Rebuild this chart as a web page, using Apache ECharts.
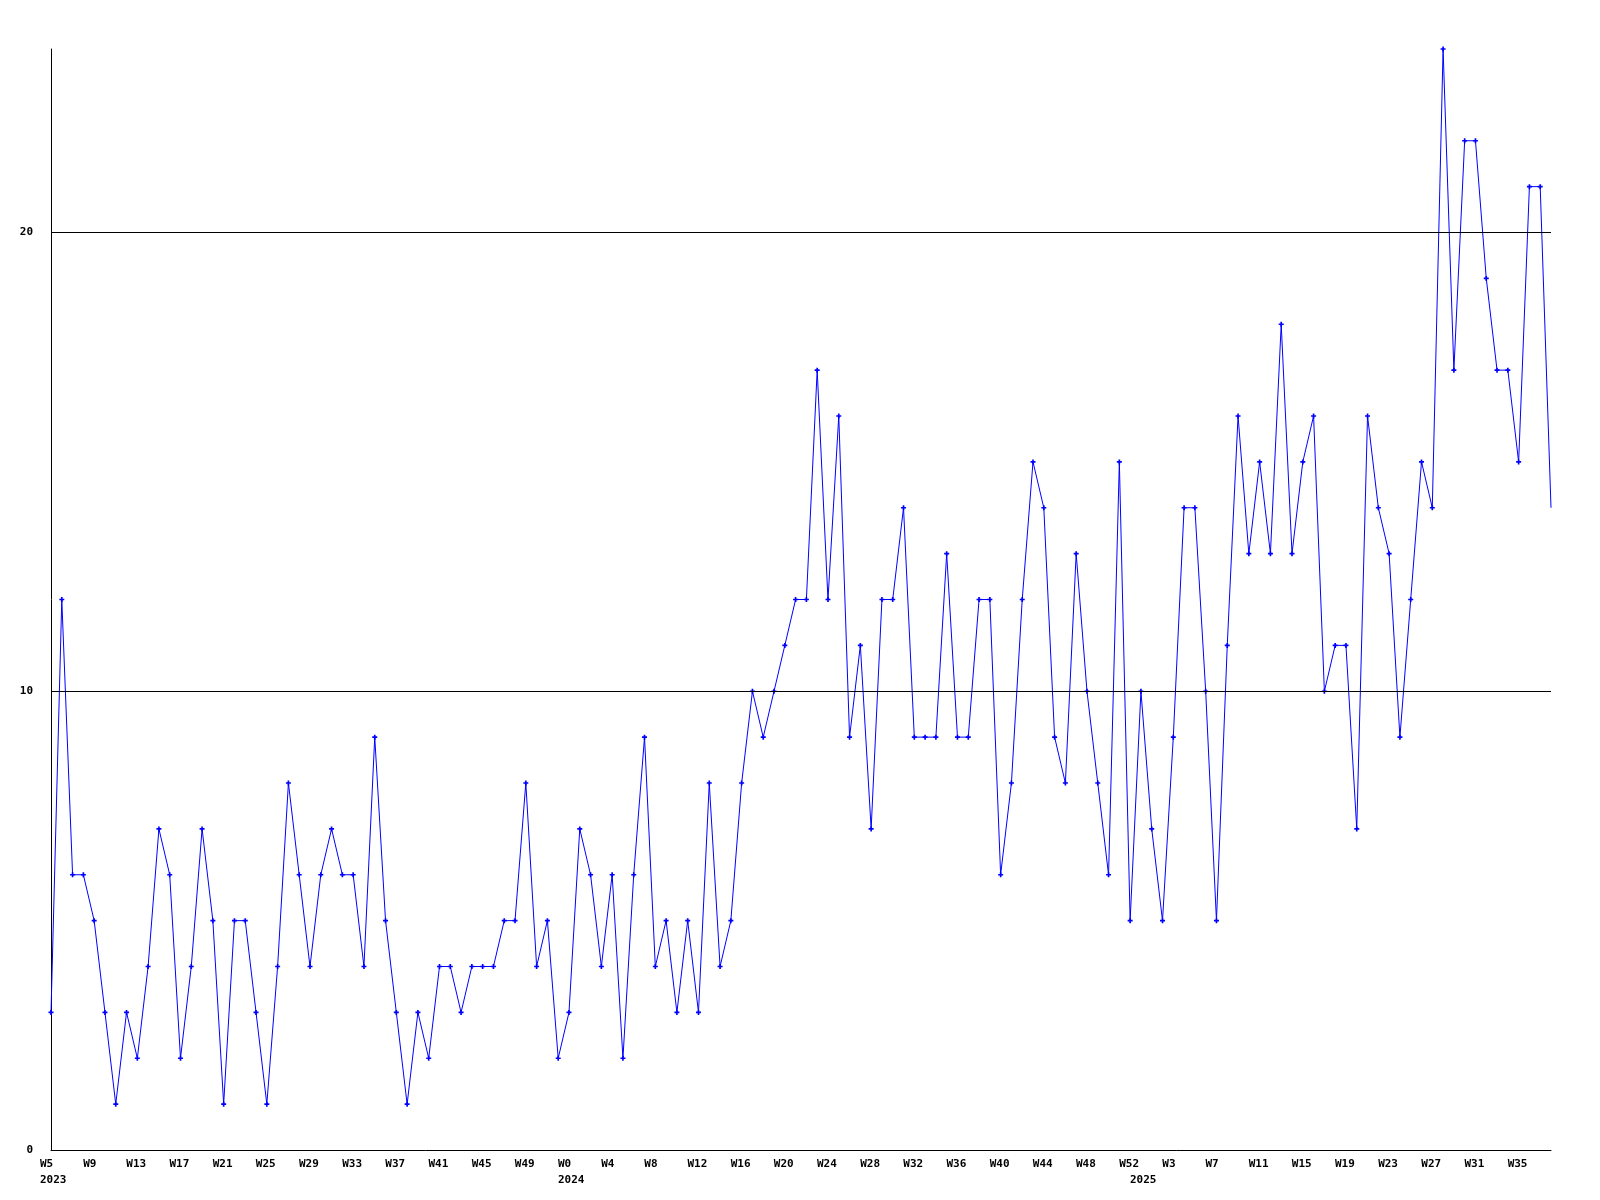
<!DOCTYPE html>
<html><head><meta charset="utf-8">
<script src="https://cdn.jsdelivr.net/npm/echarts@6/dist/echarts.min.js"></script>
<style>html,body{margin:0;padding:0;background:#fff}#c{width:1600px;height:1200px}</style>
</head><body><div id="c"></div>
<script>
// week numbers per year
const weeks2023 = [5,6,7,8,9,10,11,12,13,14,15,16,17,18,19,20,21,22,23,24,25,26,27,28,29,30,31,32,33,34,35,36,37,38,39,40,41,42,43,44,45,46,47,48,49,50,51,52];
const weeks2024 = [0,1,2,3,4,5,6,7,8,9,10,11,12,13,14,15,16,17,18,19,20,21,22,23,24,25,26,27,28,29,30,31,32,33,34,35,36,37,38,39,40,41,42,43,44,45,46,47,48,49,50,51,52];
const weeks2025 = [0,1,2,3,4,5,6,7,8,9,10,11,12,13,14,15,16,17,18,19,20,21,22,23,24,25,26,27,28,29,30,31,32,33,34,35,36,37,38];
// weekly values
const values2023 = [3,12,6,6,5,3,1,3,2,4,7,6,2,4,7,5,1,5,5,3,1,4,8,6,4,6,7,6,6,4,9,5,3,1,3,2,4,4,3,4,4,4,5,5,8,4,5,2];
const values2024 = [3,7,6,4,6,2,6,9,4,5,3,5,3,8,4,5,8,10,9,10,11,12,12,17,12,16,9,11,7,12,12,14,9,9,9,13,9,9,12,12,6,8,12,15,14,9,8,13,10,8,6,15,5];
const values2025 = [10,7,5,9,14,14,10,5,11,16,13,15,13,18,13,15,16,10,11,11,7,16,14,13,9,12,15,14,24,17,22,22,19,17,17,15,21,21,14];
const gridValues = [10, 20];
const yMax = 24;

const categories = [];
const yearOf = [];
[[2023, weeks2023], [2024, weeks2024], [2025, weeks2025]].forEach(([y, ws]) => {
  ws.forEach(w => { categories.push('W' + w); yearOf.push(y); });
});
const values = values2023.concat(values2024, values2025);
const isYearStart = i => i === 0 || yearOf[i] !== yearOf[i - 1];

const seriesData = values.map((v, i) => i === values.length - 1 ? {value: v, symbol: 'none'} : v);

const font = {fontFamily: 'DejaVu Sans Mono', fontWeight: 'bold', fontSize: 11, color: '#000'};

const chart = echarts.init(document.getElementById('c'), null, {renderer: 'canvas'});
chart.setOption({
  animation: false,
  backgroundColor: '#fff',
  grid: {left: 51, right: 49, top: 49, bottom: 50, containLabel: false},
  xAxis: {
    type: 'category',
    data: categories,
    boundaryGap: false,
    axisLine: {show: true, lineStyle: {color: '#000', width: 1}},
    axisTick: {show: false},
    splitLine: {show: false},
    axisLabel: Object.assign({}, font, {
      interval: (i) => i % 4 === 0 || isYearStart(i),
      align: 'left',
      verticalAlign: 'top',
      padding: [0, 0, 0, -11],
      lineHeight: 16,
      margin: 6,
      formatter: (val, i) => {
        const top = i % 4 === 0 ? val : '';
        return isYearStart(i) ? top + '\n' + yearOf[i] : top;
      }
    })
  },
  yAxis: {
    type: 'value',
    min: 0, max: yMax, interval: 10,
    axisLine: {show: true, lineStyle: {color: '#000', width: 1}},
    axisTick: {show: false},
    splitLine: {show: false},
    axisLabel: Object.assign({}, font, {margin: 18, showMaxLabel: false})
  },
  series: [{
    type: 'line',
    data: seriesData,
    symbol: 'path://M1,0H2V1H3V2H2V3H1V2H0V1H1Z',
    symbolSize: 5,
    showAllSymbol: true,
    lineStyle: {color: '#0000ff', width: 1},
    itemStyle: {color: '#0000ff'},
    markLine: {
      silent: true,
      symbol: ['none', 'none'],
      label: {show: false},
      lineStyle: {color: '#000', width: 1, type: 'solid'},
      data: gridValues.map(v => ({yAxis: v}))
    }
  }]
});
</script></body></html>
